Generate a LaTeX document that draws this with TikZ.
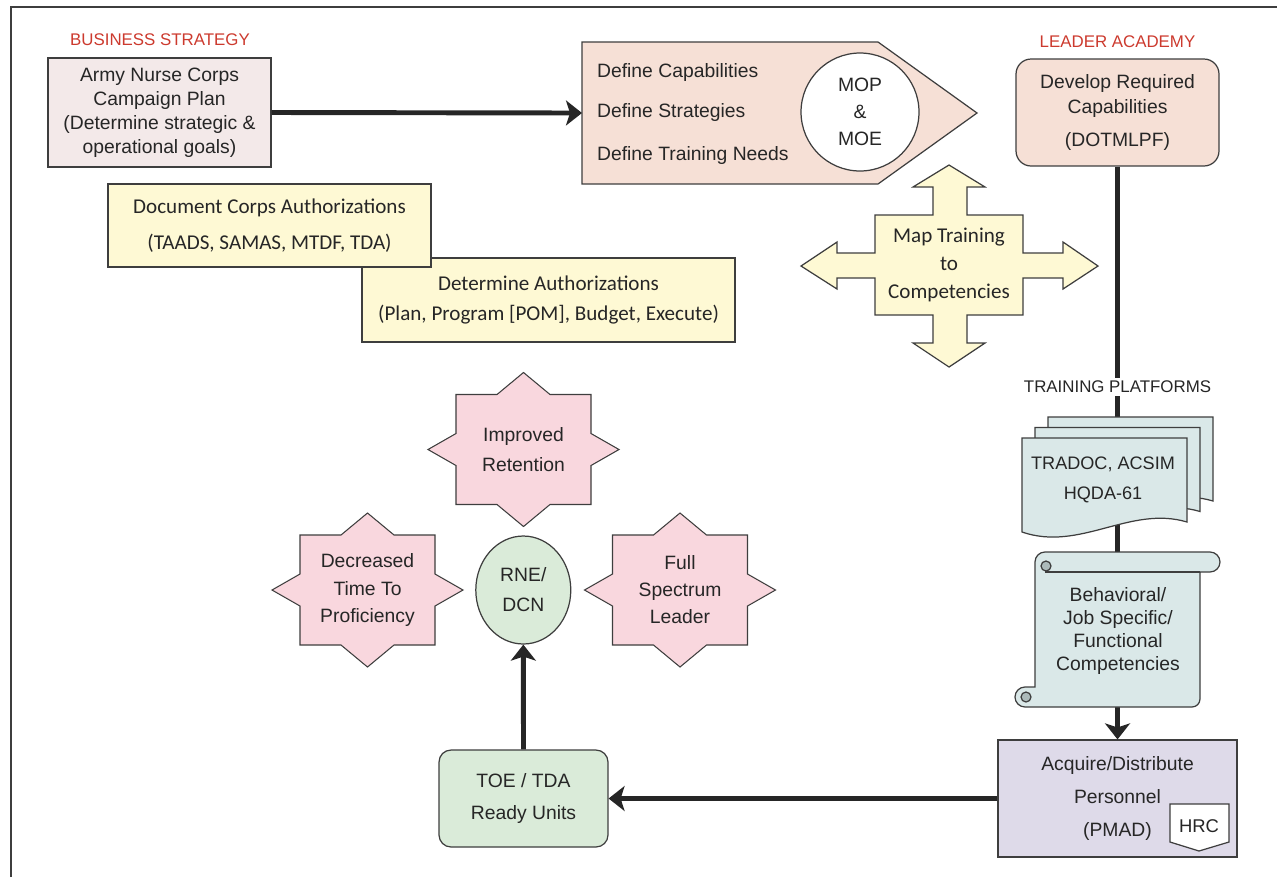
\documentclass[tikz,border=0pt]{standalone}
\usepackage{fontspec}
\setmainfont{Liberation Sans}
\newfontfamily\calib{Carlito}
\usepackage{tikz}
\usetikzlibrary{shapes,arrows.meta,positioning,backgrounds}
\definecolor{labelred}{RGB}{204,58,46}
\definecolor{linegray}{RGB}{62,62,62}
\definecolor{inkgray}{RGB}{38,38,38}
\definecolor{planpink}{RGB}{243,233,233}
\definecolor{salmon}{RGB}{246,224,214}
\definecolor{paleyellow}{RGB}{254,249,212}
\definecolor{docteal}{RGB}{218,232,232}
\definecolor{curlgray}{RGB}{172,186,186}
\definecolor{lilac}{RGB}{222,218,233}
\definecolor{mintgreen}{RGB}{218,235,217}
\definecolor{starpink}{RGB}{249,215,222}

\begin{document}
\begin{tikzpicture}[x=0.02cm, y=-0.02cm,
    lbl/.style={text=labelred, font=\fontsize{9.6}{11}\selectfont, inner sep=2pt},
    plain/.style={text=inkgray, align=center, inner sep=1pt},
    box/.style={rectangle, draw=linegray, line width=0.7pt, text=inkgray, align=center},
    outline/.style={draw=linegray, line width=0.7pt},
    burst/.style={draw=linegray, line width=0.6pt, fill=starpink},
    flow/.style={line width=2.8pt, draw=inkgray, -{Stealth[length=0.32cm, width=0.5cm, inset=0.08cm]}}
]
\useasboundingbox (0,0) rectangle (1277,877);

% frame
\draw[linegray, line width=0.8pt] (11,877) -- (11,7) -- (1277,7);

% Business strategy
\node[lbl] (bslbl) at (160,40) {BUSINESS STRATEGY};
\node[box, fill=planpink, minimum width=4.46cm, minimum height=2.18cm,
      font=\fontsize{11}{13.7}\selectfont] (plan) at (159.5,112.5)
      {Army Nurse Corps\\Campaign Plan\\(Determine strategic \&\\operational goals)};

% Capabilities pentagon
\draw[outline, fill=salmon] (582,42) -- (878,42) -- (977,113) -- (878,184) -- (582,184) -- cycle;
\coordinate (capsin) at (582,113);
\node[plain, anchor=west, font=\fontsize{11}{13}\selectfont] (defcap) at (595,72) {Define Capabilities};
\node[plain, anchor=west, font=\fontsize{11}{13}\selectfont] (defstr) at (595,112) {Define Strategies};
\node[plain, anchor=west, font=\fontsize{11}{13}\selectfont] (deftrn) at (595,155) {Define Training Needs};
\node[circle, outline, fill=white, minimum size=2.36cm, inner sep=0pt, text=inkgray, align=center,
      font=\fontsize{11}{15.2}\selectfont] (mop) at (860,112) {MOP\\\&\\MOE};

\draw[flow] (plan.east) -- (capsin);

% Leader academy
\node[lbl] (lalbl) at (1117.5,42) {LEADER ACADEMY};
\node[box, fill=salmon, rounded corners=0.3cm, minimum width=4.06cm, minimum height=2.14cm,
      font=\fontsize{11}{14.2}\selectfont] (dev) at (1117.5,112.5)
      {Develop Required\\Capabilities\\[5pt](DOTMLPF)};

% Authorizations
\node[box, fill=paleyellow, minimum width=7.46cm, minimum height=1.68cm,
      font=\calib\fontsize{12}{17}\selectfont] (detauth) at (548.5,300)
      {Determine Authorizations\\(Plan, Program [POM], Budget, Execute)};
\node[box, fill=paleyellow, minimum width=6.46cm, minimum height=1.66cm,
      font=\calib\fontsize{12}{20.5}\selectfont] (docauth) at (269.5,225.5)
      {Document Corps Authorizations\\(TAADS, SAMAS, MTDF, TDA)};

% Map training cross
\draw[outline, fill=paleyellow]
    (949,165) -- (985,187) -- (967,187) -- (967,215) -- (1023,215) -- (1023,253) -- (1063,253)
    -- (1063,242) -- (1098,266) -- (1063,289) -- (1063,278) -- (1023,278) -- (1023,315)
    -- (967,315) -- (967,343) -- (985,343) -- (949,367) -- (913,343) -- (933,343) -- (933,315)
    -- (875,315) -- (875,278) -- (837,278) -- (837,289) -- (801,266) -- (837,242) -- (837,253)
    -- (875,253) -- (875,215) -- (933,215) -- (933,187) -- (913,187) -- cycle;
\node[plain, font=\calib\fontsize{12}{15.9}\selectfont] (map) at (949,265) {Map Training\\to\\Competencies};

% Personnel
\node[box, fill=lilac, minimum width=4.78cm, minimum height=2.34cm,
      font=\fontsize{11}{18.8}\selectfont] (acq) at (1117.5,798.5)
      {Acquire/Distribute\\Personnel\\(PMAD)};
\draw[outline, fill=white] (1170,804) -- (1229,804) -- (1229,842) -- (1199,851) -- (1170,842) -- cycle;
\node[plain, font=\fontsize{10.5}{13}\selectfont] (hrc) at (1199,826) {HRC};

% Training platforms
\draw[flow] (dev.south) -- (acq.north);
\node[lbl, text=inkgray, fill=white] (tplbl) at (1117.5,387) {TRAINING PLATFORMS};

\foreach \dx/\dy in {26/-21, 13/-10.5, 0/0}
    \draw[outline, fill=docteal, shift={(\dx,\dy)}]
        (1022,438) -- (1187,438) -- (1187,522) .. controls (1130,505) and (1080,552) .. (1022,532) -- cycle;
\node[plain, font=\fontsize{10.3}{17}\selectfont] (docs) at (1103,480) {TRADOC, ACSIM\\HQDA-61};

\draw[outline, fill=docteal] (1045,552) -- (1210,552) arc[start angle=-90, end angle=90, radius=10]
    -- (1200,572) -- (1200,699) arc[start angle=0, end angle=90, radius=8]
    -- (1025,707) arc[start angle=90, end angle=270, radius=10]
    -- (1035,687) -- (1035,562) arc[start angle=180, end angle=270, radius=10] -- cycle;
\draw[outline] (1045,572) -- (1200,572);
\draw[outline, fill=curlgray] (1046,566) circle[radius=5];
\draw[outline, fill=curlgray] (1026,697) circle[radius=5];
\node[plain, font=\fontsize{11}{13.1}\selectfont] (comp) at (1118,631)
    {Behavioral/\\Job Specific/\\Functional\\Competencies};

% Ready units
\node[box, fill=mintgreen, rounded corners=0.24cm, minimum width=3.38cm, minimum height=1.94cm,
      font=\fontsize{11}{18.2}\selectfont] (toe) at (523.5,798.5) {TOE / TDA\\Ready Units};
\draw[flow] (acq.west) -- (toe.east);

\node[ellipse, outline, fill=mintgreen, minimum width=1.9cm, minimum height=2.16cm, inner sep=0pt,
      text=inkgray, align=center, font=\fontsize{11}{17}\selectfont] (rne) at (523.3,590) {RNE/\\DCN};
\draw[flow] (toe.north) -- (rne.south);

% Outcomes
\node[plain, font=\fontsize{11}{17}\selectfont] (ret) at (523.5,449.5) {Improved\\Retention};
\node[plain, font=\fontsize{11}{15.4}\selectfont] (dtp) at (367.5,590) {Decreased\\Time To\\Proficiency};
\node[plain, font=\fontsize{11}{15.4}\selectfont] (fsl) at (680,590) {Full\\Spectrum\\Leader};
\begin{scope}[on background layer]
\foreach \s in {ret,dtp,fsl}
    \draw[burst, shift={(\s.center)}]
        (0,-77) -- (26.5,-55) -- (67.5,-55) -- (67.5,-16) -- (95.5,0) -- (67.5,16) -- (67.5,55)
        -- (26.5,55) -- (0,77) -- (-26.5,55) -- (-67.5,55) -- (-67.5,16) -- (-95.5,0)
        -- (-67.5,-16) -- (-67.5,-55) -- (-26.5,-55) -- cycle;
\end{scope}

\end{tikzpicture}
\end{document}
